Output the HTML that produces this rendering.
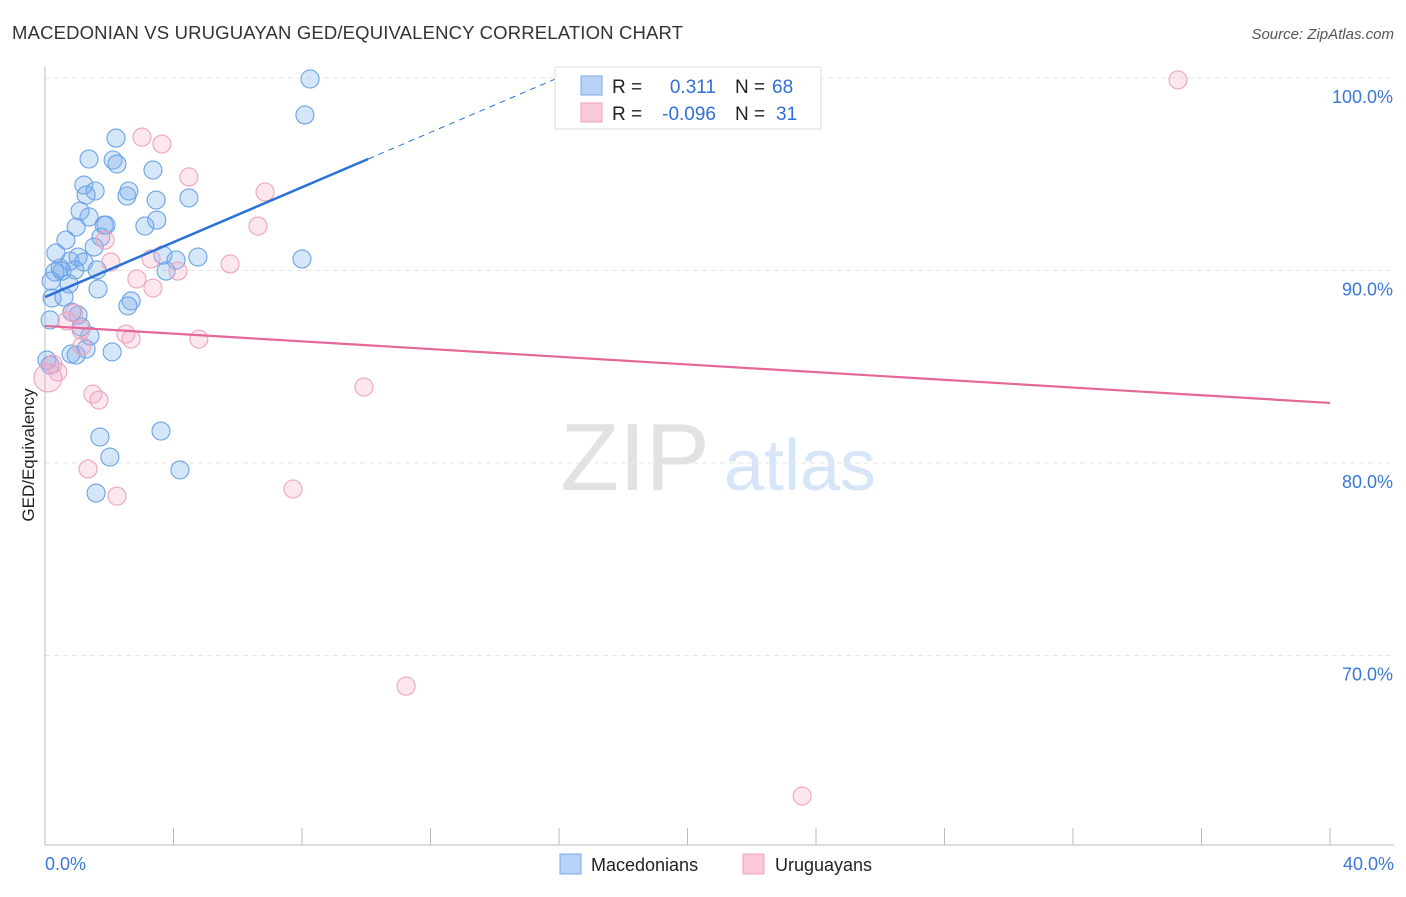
<!DOCTYPE html>
<html><head><meta charset="utf-8"><style>
body{margin:0;background:#fff;font-family:"Liberation Sans",sans-serif;}
svg text{font-family:"Liberation Sans",sans-serif;}
</style></head><body>
<svg id="chart" width="1406" height="892">
<text x="12" y="39" font-size="18.5" fill="#333" textLength="671">MACEDONIAN VS URUGUAYAN GED/EQUIVALENCY CORRELATION CHART</text>
<text x="1394" y="39" font-size="15" fill="#555" text-anchor="end" font-style="italic">Source: ZipAtlas.com</text>
<text transform="translate(34,455) rotate(-90)" font-size="17" fill="#222" text-anchor="middle">GED/Equivalency</text>
<g><text x="635" y="490" font-size="96" fill="#e2e2e2" font-family="Liberation Serif" text-anchor="middle">ZIP</text><text x="800" y="490" font-size="72" fill="#d6e5f7" text-anchor="middle">atlas</text></g>
<g id="grid"></g><g id="axes"></g><g id="marks"></g>
<g>
<rect x="555" y="67" width="266" height="62" fill="#fff" stroke="#ddd"/>
<rect x="581" y="76" width="21" height="19" fill="#b8d3f5" stroke="#7aaae8"/>
<rect x="581" y="103" width="21" height="19" fill="#fbc8d8" stroke="#eea0bb"/>
<text x="612" y="93" font-size="19" fill="#222">R =</text><text x="716" y="93" font-size="19" fill="#2f6fd6" text-anchor="end">0.311</text>
<text x="735" y="93" font-size="19" fill="#222">N =</text><text x="772" y="93" font-size="19" fill="#2f6fd6">68</text>
<text x="612" y="120" font-size="19" fill="#222">R =</text><text x="716" y="120" font-size="19" fill="#2f6fd6" text-anchor="end">-0.096</text>
<text x="735" y="120" font-size="19" fill="#222">N =</text><text x="776" y="120" font-size="19" fill="#2f6fd6">31</text>
</g>
<g>
<rect x="560" y="854" width="21" height="20" fill="#b8d3f5" stroke="#7aaae8"/><text x="591" y="871" font-size="18" fill="#222">Macedonians</text>
<rect x="743" y="854" width="21" height="20" fill="#fbc8d8" stroke="#eea0bb"/><text x="775" y="871" font-size="18" fill="#222">Uruguayans</text>
</g>
</svg>
<script>
const blueX=[8.25,8.09,2.21,1.37,2.12,2.24,3.36,1.21,1.56,2.61,1.28,2.55,3.46,4.48,1.09,1.37,3.48,1.84,1.9,0.97,3.11,0.65,1.74,1.53,0.34,1.03,0.78,1.21,3.67,4.08,4.76,8.0,0.47,0.31,0.53,0.93,1.62,3.77,0.19,0.75,1.65,0.22,0.59,2.68,2.58,0.84,1.03,0.16,1.12,1.40,1.28,0.81,0.97,2.09,0.06,0.16,1.71,3.61,2.02,4.2,1.59];
const blueY=[99.95,98.08,96.88,95.79,95.74,95.53,95.22,94.44,94.13,94.13,93.92,93.87,93.66,93.77,93.09,92.78,92.62,92.36,92.36,92.26,92.31,91.58,91.74,91.22,90.91,90.70,90.49,90.44,90.80,90.54,90.70,90.60,90.13,89.92,89.97,90.03,90.03,89.97,89.45,89.30,89.04,88.57,88.62,88.42,88.16,87.84,87.69,87.43,87.07,86.60,85.92,85.66,85.61,85.77,85.35,85.09,81.35,81.66,80.31,79.64,78.44];
const pinkX=[35.27,3.02,3.64,4.48,6.85,6.63,1.87,2.05,3.30,5.76,4.14,2.86,3.36,0.90,0.68,1.12,2.52,2.68,4.79,1.15,0.25,0.40,0.09,1.49,1.68,9.93,1.34,2.24,7.72,11.24,23.57];
const pinkY=[99.9,96.93,96.57,94.86,94.08,92.31,91.58,90.44,90.60,90.34,89.97,89.56,89.09,87.79,87.38,86.91,86.70,86.44,86.44,86.08,85.14,84.73,84.42,83.58,83.27,83.95,79.69,78.28,78.65,68.41,62.70];
const blueTrend=[88.62,0.713];
const pinkTrend=[87.12,-0.1];
const yTicks=[100,90,80,70];
const xLabels=["0.0%","40.0%"];
const NS="http://www.w3.org/2000/svg";
const sx=v=>45+v*1285/40, sy=v=>78+(100-v)*19.25;
function mk(t,a,p){const e=document.createElementNS(NS,t);for(const k in a)e.setAttribute(k,a[k]);document.getElementById(p).appendChild(e);return e;}
yTicks.forEach(t=>{
 const l=mk('line',{x1:45,x2:1394,y1:sy(t),y2:sy(t),stroke:'#e6e6e6','stroke-dasharray':'5,4'},'grid');
 
 
 const tx=mk('text',{x:1393,y:sy(t)+25,'font-size':18,fill:'#3a78d8','text-anchor':'end'},'axes');tx.textContent=t.toFixed(1)+'%';
 
 
});
mk('line',{x1:45,x2:45,y1:67,y2:845,stroke:'#bbb'},'axes');
mk('line',{x1:45,x2:1394,y1:845,y2:845,stroke:'#bbb'},'axes');
for(let i=0;i<=10;i++){mk('line',{x1:sx(i*4),x2:sx(i*4),y1:828,y2:845,stroke:'#bbb'},'axes');}
const l0=mk('text',{x:45,y:870,'font-size':18,fill:'#3a78d8'},'axes');l0.textContent=xLabels[0];


const l1=mk('text',{x:1394,y:870,'font-size':18,fill:'#3a78d8','text-anchor':'end'},'axes');l1.textContent=xLabels[1];


blueX.forEach((x,i)=>{const c=mk('circle',{cx:sx(x),cy:sy(blueY[i]),r:9,fill:'rgba(120,172,235,0.3)',stroke:'#6aa3e6','stroke-width':1.1},'marks');
 
 });
pinkX.forEach((x,i)=>{const c=mk('circle',{cx:sx(x),cy:sy(pinkY[i]),r:i==22?14:9,fill:'rgba(246,170,198,0.28)',stroke:'#eea3be','stroke-width':1.1},'marks');
 
 });
const bt=x=>blueTrend[0]+blueTrend[1]*x, pt=x=>pinkTrend[0]+pinkTrend[1]*x;
const b1=mk('line',{x1:sx(0),y1:sy(bt(0)),x2:sx(10.06),y2:sy(bt(10.06)),stroke:'#2a72d8','stroke-width':2.5},'marks');


const b2=mk('line',{x1:sx(10.06),y1:sy(bt(10.06)),x2:sx(16.4),y2:sy(bt(16.4)),stroke:'#2a72d8','stroke-width':1,'stroke-dasharray':'6,5'},'marks');


const p1=mk('line',{x1:sx(0),y1:sy(pt(0)),x2:sx(40),y2:sy(pt(40)),stroke:'#e5679a','stroke-width':2.2},'marks');


</script>
</body></html>
